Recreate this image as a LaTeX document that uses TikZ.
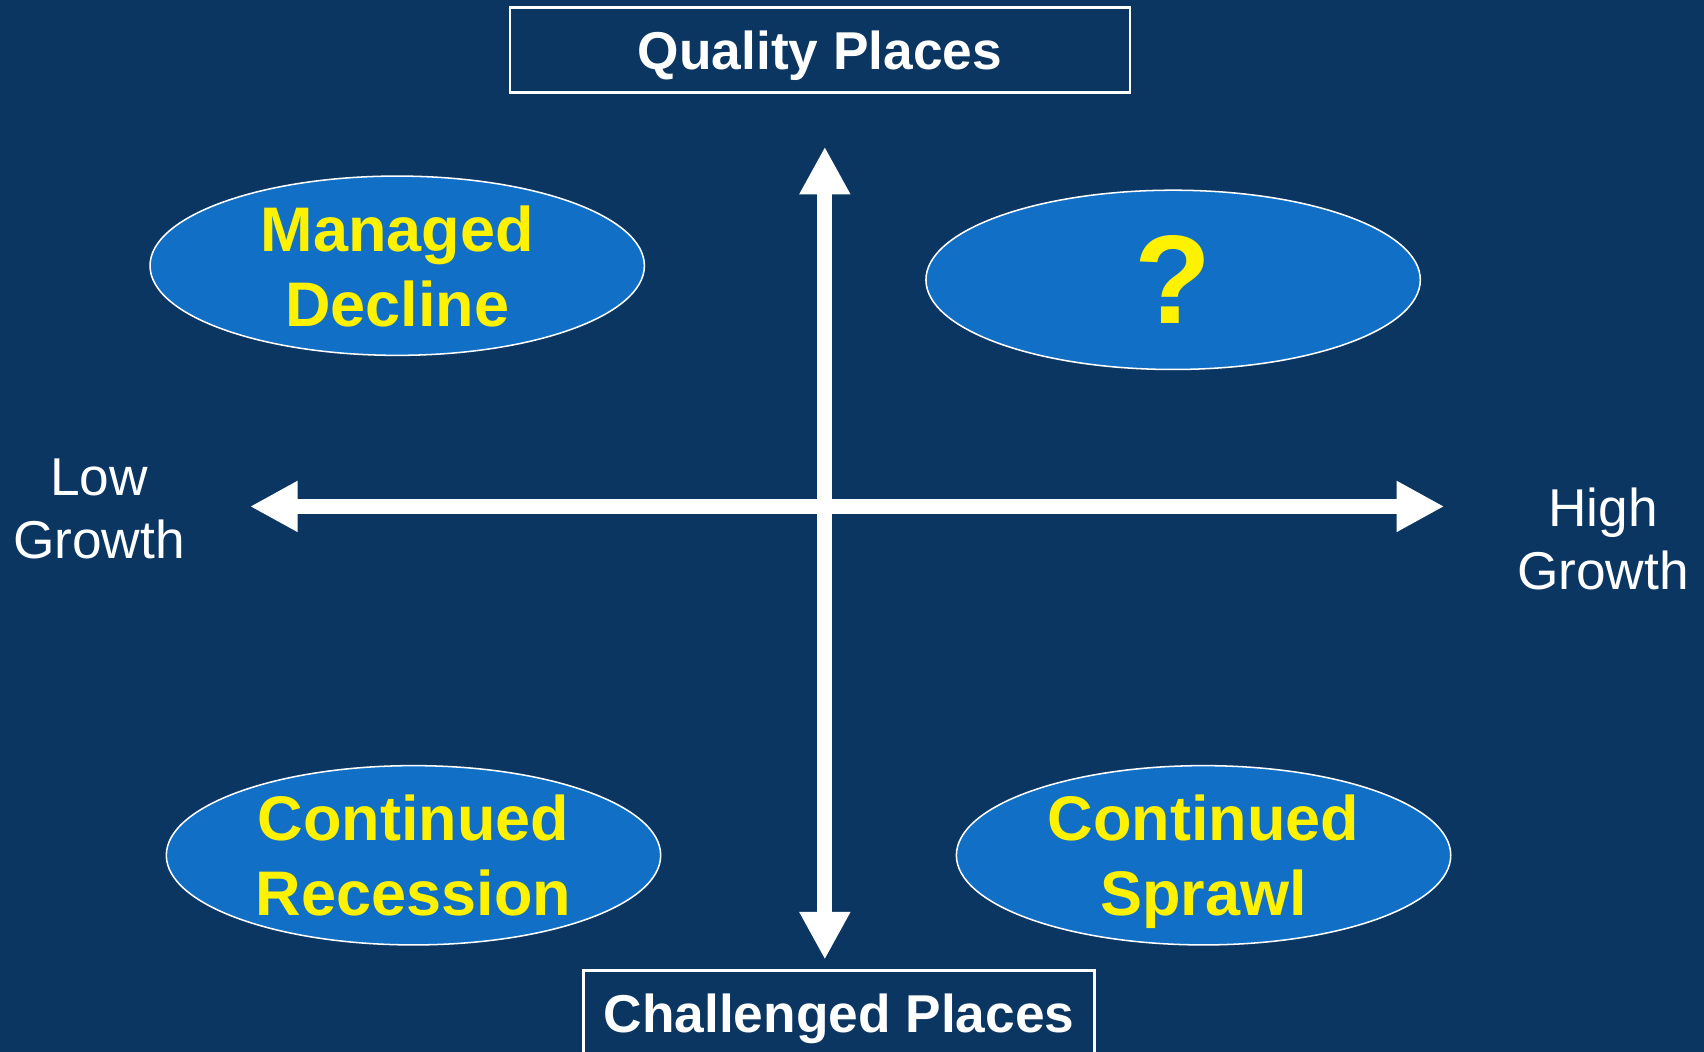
\documentclass[tikz,border=0pt]{standalone}
\usepackage{fontspec}
\setmainfont{Liberation Sans}
\usepackage{tikz}
\usetikzlibrary{arrows.meta,shapes.geometric,positioning}
\definecolor{navybg}{RGB}{11,54,98}
\definecolor{ovalblue}{RGB}{17,112,198}

\begin{document}
\begin{tikzpicture}[x=0.02cm,y=-0.02cm]
  \tikzset{
    axis/.style={white, line width=8pt, {Triangle[length=25pt,width=25pt]}-{Triangle[length=25pt,width=25pt]}},
    quad/.style={ellipse, draw=white, line width=0.8pt, fill=ovalblue, minimum width=9.1cm, minimum height=3.3cm, inner xsep=0pt, inner ysep=-0.3cm, text depth=0pt, align=center, text=yellow, font=\fontsize{33}{39.3}\selectfont\bfseries},
    titlebox/.style={draw=white, line width=1.3pt, minimum height=1.56cm, inner sep=0pt, text depth=0pt, text=white, font=\fontsize{27.9}{33}\selectfont\bfseries},
    pole/.style={text=white, align=center, inner sep=0pt, font=\fontsize{27.9}{33}\selectfont}
  }

  % background and page size
  \fill[navybg] (0,0) rectangle (1568,968);
  \useasboundingbox (0,0) rectangle (1568,968);

  % Top and bottom labels
  \node[titlebox, minimum width=11.42cm] (quality) at (754.5,46) {Quality Places};
  \node[titlebox, minimum width=9.4cm] (challenged) at (772,932) {Challenged Places};

  % Growth labels
  \node[pole] (low) at (91,468) {Low\\Growth};
  \node[pole] (high) at (1475,496) {High\\Growth};

  % Quadrants
  \node[quad] (managed) at (365.5,244.5) {Managed\\Decline};
  \node[quad] (unknown) at (1079.5,257.5) {};
  \node[text=yellow, font=\fontsize{66}{70}\selectfont\bfseries] (qmark) at (unknown.center) {?};
  \node[quad] (recession) at (380.5,787) {Continued\\Recession};
  \node[quad] (sprawl) at (1107.5,787) {Continued\\Sprawl};

  % Axes
  \coordinate (up) at (759,135);
  \coordinate (down) at (759,883);
  \coordinate (west) at (230,466);
  \coordinate (east) at (1329,466);
  \draw[axis] (down) -- (up);
  \draw[axis] (west) -- (east);

\end{tikzpicture}
\end{document}
